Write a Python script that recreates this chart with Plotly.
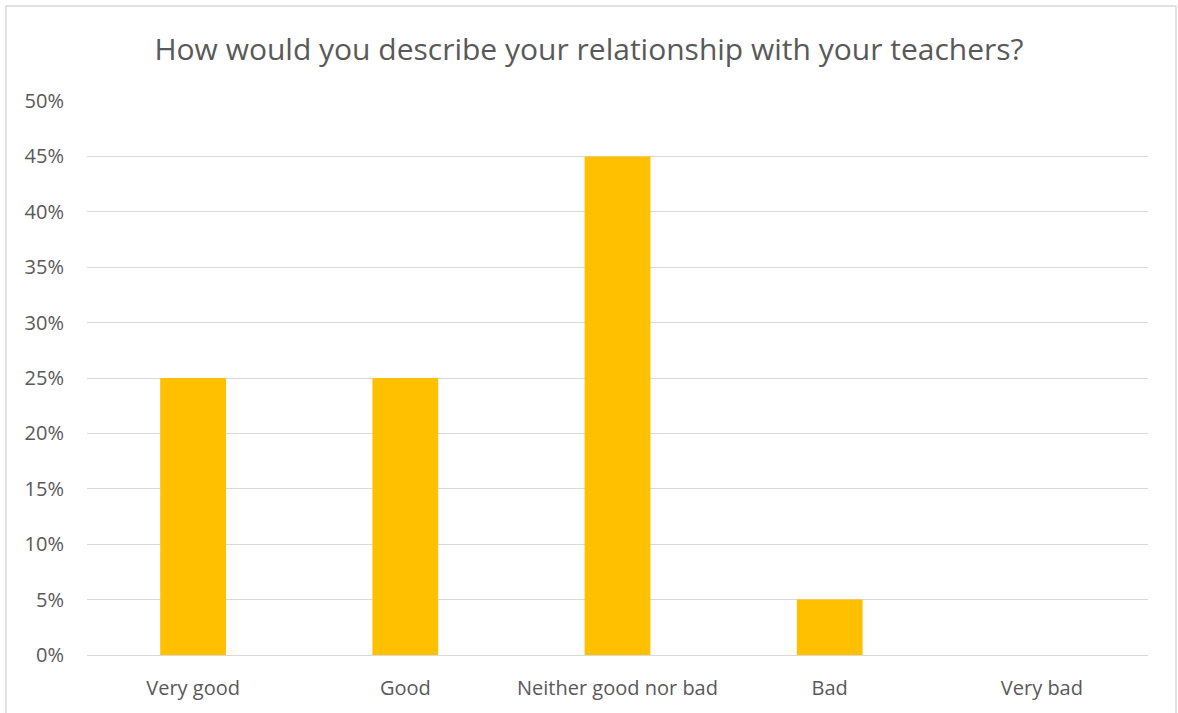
import plotly.graph_objects as go

categories = ["Very good", "Good", "Neither good nor bad", "Bad", "Very bad"]
shares = [0.25, 0.25, 0.45, 0.05, 0.0]
y_ticks = [0, 0.05, 0.10, 0.15, 0.20, 0.25, 0.30, 0.35, 0.40, 0.45, 0.50]
y_tick_labels = [f"{round(v * 100)}%" for v in y_ticks]

TEXT = "#595959"
GRID = "#d9d9d9"
FONT = "Open Sans, sans-serif"

fig = go.Figure(
    go.Bar(
        x=categories,
        y=shares,
        marker=dict(color="#ffc000", line=dict(width=0)),
        width=0.31,
        hoverinfo="x+y",
    )
)

fig.update_layout(
    width=1178,
    height=713,
    margin=dict(l=87, r=30, t=101, b=58),
    paper_bgcolor="white",
    plot_bgcolor="white",
    showlegend=False,
    title=dict(
        text="How would you describe your relationship with your teachers?",
        x=0.5,
        xanchor="center",
        y=1 - 49 / 713,
        yanchor="middle",
        font=dict(family=FONT, size=30, color=TEXT),
    ),
    font=dict(family=FONT, size=20, color=TEXT),
    xaxis=dict(
        showgrid=False,
        showline=True,
        linecolor=GRID,
        linewidth=1,
        tickfont=dict(size=20, color=TEXT),
        ticks="",
        ticklabelstandoff=15,
    ),
    yaxis=dict(
        range=[0, 0.5],
        tickvals=y_ticks,
        ticktext=y_tick_labels,
        showgrid=True,
        gridcolor=GRID,
        gridwidth=1,
        zeroline=False,
        showline=False,
        ticks="",
        tickfont=dict(size=20, color=TEXT),
        ticklabelstandoff=22,
    ),
    shapes=[
        dict(
            type="rect",
            xref="paper",
            yref="paper",
            x0=(6 - 87) / 1061,
            x1=(1176 - 87) / 1061,
            y0=(655 - 730) / 554,
            y1=(655 - 6) / 554,
            line=dict(color=GRID, width=1.5),
            fillcolor="rgba(0,0,0,0)",
            layer="below",
        )
    ],
)

fig.write_html("out.html")
